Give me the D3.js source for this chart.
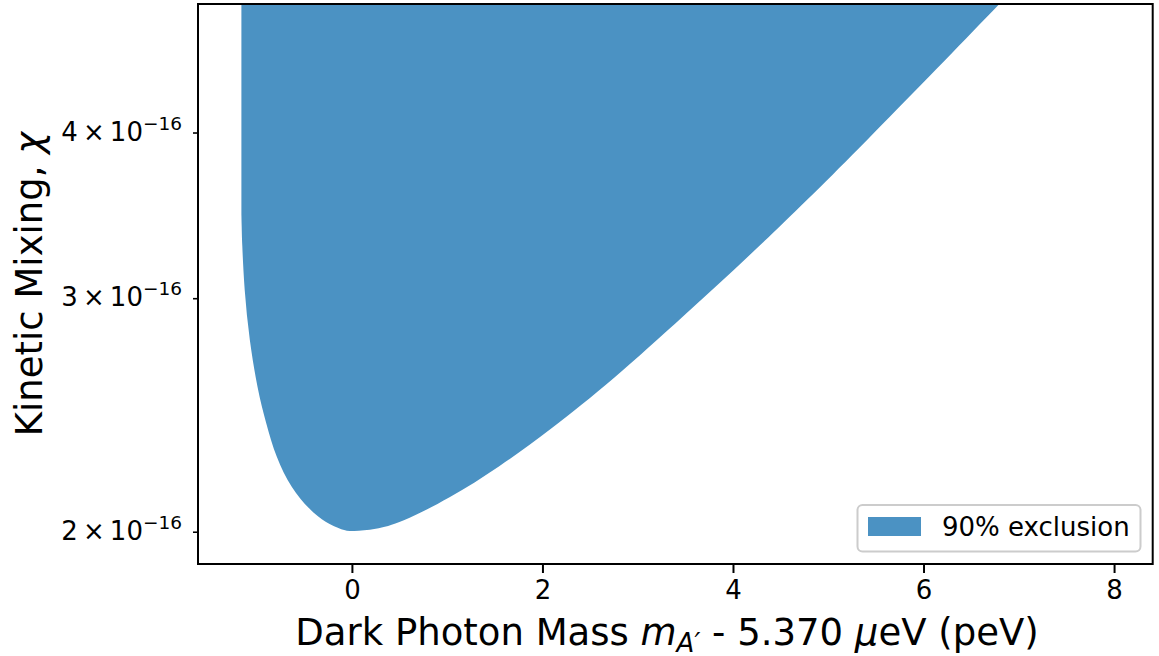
<!DOCTYPE html>
<html><head><meta charset="utf-8">
<script src="https://cdn.jsdelivr.net/npm/d3@7"></script>
<style>
body{margin:0;background:#fff}
text{font-family:"DejaVu Sans",sans-serif;fill:#000}
</style>
</head><body>
<svg id="chart" width="1159" height="656"></svg>
<script>
// Dark photon mass offset (peV) and 90% exclusion limit on kinetic mixing
const massOffset = [-1.16, -1.157, -1.154, -1.130, -1.077, -0.990, -0.902, -0.797, -0.639, -0.447, -0.271, -0.100, 0.0, 0.25, 0.499, 1.025, 1.550, 2.076, 2.741, 3.477, 4.353, 5.316, 6.798, 7.40, 7.95];
const chiLimit   = [3.47e-16, 3.40e-16, 3.32e-16, 3.043e-16, 2.79e-16, 2.558e-16, 2.416e-16, 2.275e-16, 2.158e-16, 2.078e-16, 2.03e-16, 2.006e-16, 2.0e-16, 2.008e-16, 2.029e-16, 2.119e-16, 2.239e-16, 2.385e-16, 2.603e-16, 2.906e-16, 3.319e-16, 3.882e-16, 5.0e-16, 5.55e-16, 6.1e-16];
const xTicks = [0, 2, 4, 6, 8];
const yTicks = [2e-16, 3e-16, 4e-16];
const yTickMantissa = ["2", "3", "4"];
const yTickExponent = "\u221216";
const yDomain = [1.891e-16, 5.0e-16];
const legendLabel = "90% exclusion";

const W = 1159, H = 656;
const L = 198, R = 1152.7, T = 4, B = 564;
const fillColor = "#4b92c3";

const svg = d3.select("#chart");
const xExt = d3.extent(massOffset);
const pad = 0.05 * (xExt[1] - xExt[0]);
const x = d3.scaleLinear().domain([xExt[0] - pad, xExt[1] + pad]).range([L, R]);
const y = d3.scaleLog().domain(yDomain).range([B, T]);

svg.append("defs").append("clipPath").attr("id", "clip")
  .append("rect").attr("x", L).attr("y", T).attr("width", R - L).attr("height", B - T);

const data = massOffset.map((m, i) => ({m, c: chiLimit[i]}));
const area = d3.area()
  .x(d => x(d.m))
  .y0(d => y(d.c))
  .y1(() => y(yDomain[1]) - 20)
  .curve(d3.curveBasis);

svg.append("path").datum(data)
  .attr("clip-path", "url(#clip)")
  .attr("d", area)
  .attr("fill", fillColor);

// X axis
const xAxis = d3.axisBottom(x).tickValues(xTicks).tickSize(9).tickPadding(8).tickFormat(d3.format("d"));
const gx = svg.append("g").attr("transform", `translate(0,${B})`).call(xAxis);
gx.select(".domain").remove();
gx.selectAll(".tick line").attr("stroke", "#000").attr("stroke-width", 2);
gx.selectAll(".tick text").attr("font-size", 26).attr("font-family", "DejaVu Sans").attr("fill", "#000");

// Y axis (log, minor-style ticks with mathtext labels)
const yAxis = d3.axisLeft(y).tickValues(yTicks).tickSize(5).tickFormat("");
const gy = svg.append("g").attr("transform", `translate(${L},0)`).call(yAxis);
gy.select(".domain").remove();
gy.selectAll(".tick line").attr("stroke", "#000").attr("stroke-width", 1.6);
yTicks.forEach((v, i) => {
  const t = svg.append("text")
    .attr("x", 182).attr("y", y(v) + 8)
    .attr("text-anchor", "end").attr("font-size", 26);
  t.append("tspan").text(yTickMantissa[i] + "\u2009\u00d7\u200910");
  t.append("tspan").attr("dy", -11).attr("font-size", 18.5).text(yTickExponent);
});

// Spines
svg.append("rect").attr("x", L).attr("y", T).attr("width", R - L).attr("height", B - T)
  .attr("fill", "none").attr("stroke", "#000").attr("stroke-width", 2);

// X label
const xl = svg.append("text").attr("x", 667).attr("y", 645)
  .attr("text-anchor", "middle").attr("font-size", 37);
xl.append("tspan").text("Dark Photon Mass ");
xl.append("tspan").attr("font-style", "italic").text("m");
xl.append("tspan").attr("font-style", "italic").attr("font-size", 26).attr("dy", 7).text("A\u2032");
xl.append("tspan").attr("dy", -7).text(" - 5.370 ");
xl.append("tspan").attr("font-style", "italic").text("\u03bc");
xl.append("tspan").text("eV (peV)");

// Y label
const yl = svg.append("text")
  .attr("transform", `translate(42,${(T + B) / 2}) rotate(-90)`)
  .attr("text-anchor", "middle").attr("font-size", 37);
yl.append("tspan").text("Kinetic Mixing, ");
yl.append("tspan").attr("font-style", "italic").text("\u03c7");

// Legend
const lg = svg.append("g");
lg.append("rect").attr("x", 857.5).attr("y", 505).attr("width", 283).attr("height", 46.5)
  .attr("rx", 5).attr("fill", "#fff").attr("fill-opacity", 0.8)
  .attr("stroke", "#cccccc").attr("stroke-width", 2);
lg.append("rect").attr("x", 868).attr("y", 517).attr("width", 53).attr("height", 19)
  .attr("fill", fillColor);
lg.append("text").attr("x", 942).attr("y", 536).attr("font-size", 26).text(legendLabel);
</script>
</body></html>
